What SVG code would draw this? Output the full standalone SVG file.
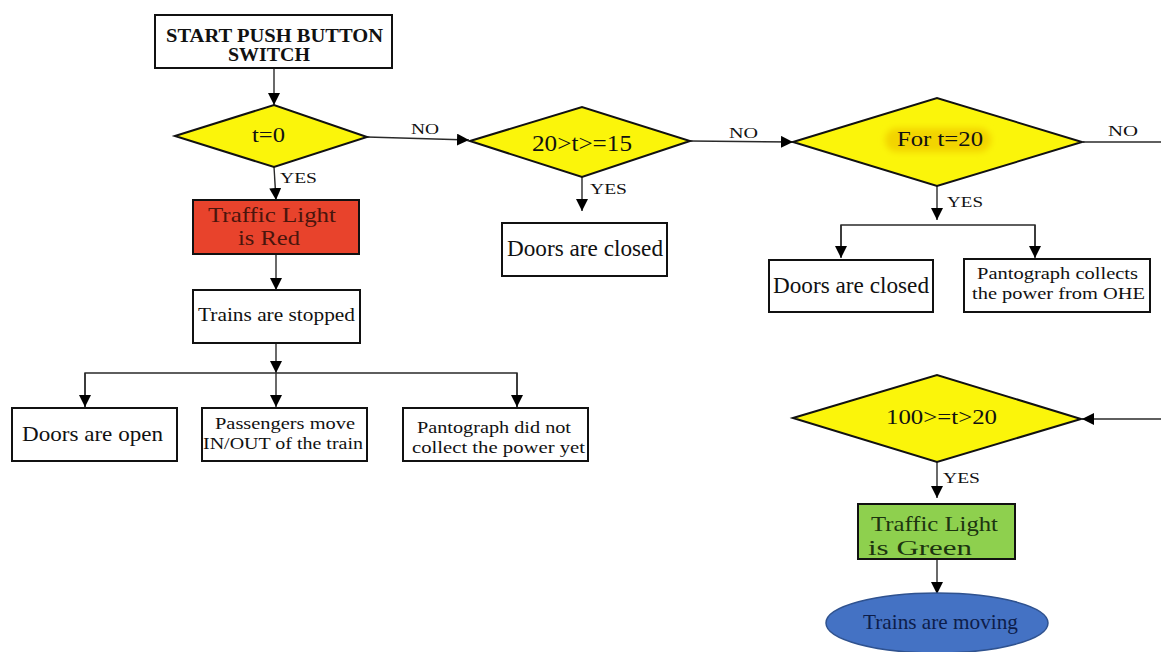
<svg xmlns="http://www.w3.org/2000/svg" width="1161" height="652" viewBox="0 0 1161 652">
  <style>
    .box { fill: #ffffff; stroke: #111111; stroke-width: 2; }
    .dia { fill: #fbf50a; stroke: #111111; stroke-width: 2; }
    .wire { fill: none; stroke: #2a2a2a; stroke-width: 1.4; }
    .arw { marker-end: url(#head); }
    text { font-family: "Liberation Serif", "Times New Roman", serif; fill: #111111; }
    .lbl { font-size: 15.5px; }
    .bold { font-weight: bold; }
  </style>
  <defs>
    <marker id="head" viewBox="0 0 12 12" refX="12" refY="6" markerWidth="12" markerHeight="12" markerUnits="userSpaceOnUse" orient="auto">
      <path d="M0,0 L12,6 L0,12 z" fill="#000000"/>
    </marker>
    <filter id="soft" x="-20%" y="-40%" width="140%" height="180%">
      <feGaussianBlur stdDeviation="3"/>
    </filter>
  </defs>

  <rect width="1161" height="652" fill="#ffffff"/>

  <!-- connectors -->
  <g id="connectors">
    <line class="wire arw" x1="274" y1="68" x2="274" y2="105"/>
    <line class="wire arw" x1="367" y1="137" x2="469" y2="140"/>
    <line class="wire arw" x1="274" y1="167" x2="276" y2="200"/>
    <line class="wire arw" x1="276" y1="254" x2="276" y2="290"/>
    <line class="wire arw" x1="276" y1="343" x2="276" y2="373"/>
    <polyline class="wire" points="85,407 85,373 517,373 517,407"/>
    <line class="wire arw" x1="85" y1="373" x2="85" y2="407"/>
    <line class="wire arw" x1="276" y1="373" x2="276" y2="407"/>
    <line class="wire arw" x1="517" y1="373" x2="517" y2="407"/>
    <line class="wire arw" x1="582" y1="177" x2="582" y2="211"/>
    <line class="wire arw" x1="690" y1="141" x2="793" y2="142"/>
    <line class="wire" x1="1083" y1="142" x2="1161" y2="142"/>
    <line class="wire arw" x1="937" y1="186" x2="937" y2="220"/>
    <polyline class="wire" points="841,257 841,225 1035,225 1035,257"/>
    <line class="wire arw" x1="841" y1="225" x2="841" y2="258"/>
    <line class="wire arw" x1="1035" y1="225" x2="1035" y2="258"/>
    <line class="wire arw" x1="1161" y1="419" x2="1082" y2="419"/>
    <line class="wire arw" x1="937" y1="462" x2="937" y2="498"/>
    <line class="wire arw" x1="937" y1="559" x2="937" y2="594"/>

    <text class="lbl" x="280" y="183" textLength="37" lengthAdjust="spacingAndGlyphs">YES</text>
    <text class="lbl" x="411" y="134" textLength="28" lengthAdjust="spacingAndGlyphs">NO</text>
    <text class="lbl" x="590" y="194" textLength="37" lengthAdjust="spacingAndGlyphs">YES</text>
    <text class="lbl" x="729" y="138" textLength="29" lengthAdjust="spacingAndGlyphs">NO</text>
    <text class="lbl" x="1108" y="136" textLength="30" lengthAdjust="spacingAndGlyphs">NO</text>
    <text class="lbl" x="947" y="207" textLength="36" lengthAdjust="spacingAndGlyphs">YES</text>
    <text class="lbl" x="943" y="483" textLength="37" lengthAdjust="spacingAndGlyphs">YES</text>
  </g>

  <!-- start -->
  <g id="start">
    <rect class="box" x="155" y="15" width="237" height="53"/>
    <text class="bold" x="166" y="41.5" font-size="18.5" textLength="217" lengthAdjust="spacingAndGlyphs">START PUSH BUTTON</text>
    <text class="bold" x="228" y="60.5" font-size="18.5" textLength="82" lengthAdjust="spacingAndGlyphs">SWITCH</text>
  </g>

  <!-- decision t=0 -->
  <g id="dec-t0">
    <polygon class="dia" points="175,136 274,105 367,137 274,167"/>
    <text x="252" y="141.5" font-size="21" textLength="33" lengthAdjust="spacingAndGlyphs">t=0</text>
  </g>

  <g id="light-red">
    <rect class="box" x="193" y="200" width="166" height="54" style="fill:#e8432c"/>
    <text x="208" y="222" font-size="22" textLength="128" lengthAdjust="spacingAndGlyphs" style="fill:#4a150c">Traffic Light</text>
    <text x="238" y="245" font-size="22" textLength="62" lengthAdjust="spacingAndGlyphs" style="fill:#4a150c">is Red</text>
  </g>

  <g id="trains-stopped">
    <rect class="box" x="193" y="290" width="167" height="53"/>
    <text x="198" y="320.5" font-size="19.5" textLength="157" lengthAdjust="spacingAndGlyphs">Trains are stopped</text>
  </g>

  <g id="doors-open">
    <rect class="box" x="12" y="408" width="165" height="53"/>
    <text x="22" y="440.5" font-size="21" textLength="141" lengthAdjust="spacingAndGlyphs">Doors are open</text>
  </g>

  <g id="passengers">
    <rect class="box" x="202" y="408" width="165" height="53"/>
    <text x="215" y="429" font-size="17.5" textLength="140" lengthAdjust="spacingAndGlyphs">Passengers move</text>
    <text x="203" y="448.5" font-size="17.5" textLength="160" lengthAdjust="spacingAndGlyphs">IN/OUT of the train</text>
  </g>

  <g id="panto-off">
    <rect class="box" x="403" y="408" width="185" height="53"/>
    <text x="417" y="433" font-size="17.5" textLength="154" lengthAdjust="spacingAndGlyphs">Pantograph did not</text>
    <text x="412" y="452.5" font-size="17.5" textLength="173" lengthAdjust="spacingAndGlyphs">collect the power yet</text>
  </g>

  <!-- decision 20>t>=15 -->
  <g id="dec-15">
    <polygon class="dia" points="470,141 582,107 690,141 582,177"/>
    <text x="532" y="151" font-size="22.5" textLength="100" lengthAdjust="spacingAndGlyphs">20&gt;t&gt;=15</text>
  </g>

  <g id="doors-closed-a">
    <rect class="box" x="502" y="223" width="165" height="53"/>
    <text x="507" y="256" font-size="22.5" textLength="156" lengthAdjust="spacingAndGlyphs">Doors are closed</text>
  </g>

  <!-- decision t=20 -->
  <g id="dec-20">
    <polygon class="dia" points="793,142 937,98 1082,142 937,186"/>
    <rect x="885" y="128" width="106" height="24" rx="12" fill="#f2d400" filter="url(#soft)"/>
    <text x="897" y="146" font-size="21.5" textLength="86" lengthAdjust="spacingAndGlyphs">For t=20</text>
  </g>

  <g id="doors-closed-b">
    <rect class="box" x="769" y="260" width="164" height="52"/>
    <text x="773" y="293" font-size="22.5" textLength="156" lengthAdjust="spacingAndGlyphs">Doors are closed</text>
  </g>

  <g id="panto-on">
    <rect class="box" x="964" y="259" width="186" height="53"/>
    <text x="977" y="279" font-size="16.5" textLength="161" lengthAdjust="spacingAndGlyphs">Pantograph collects</text>
    <text x="972" y="298.5" font-size="16.5" textLength="173" lengthAdjust="spacingAndGlyphs">the power from OHE</text>
  </g>

  <!-- decision 100>=t>20 -->
  <g id="dec-100">
    <polygon class="dia" points="793,418 937,375 1081,419 937,462"/>
    <text x="886" y="423.5" font-size="21.5" textLength="111" lengthAdjust="spacingAndGlyphs">100&gt;=t&gt;20</text>
  </g>

  <g id="light-green">
    <rect class="box" x="858" y="504" width="157" height="55" style="fill:#8ed04e"/>
    <text x="871" y="530.5" font-size="22" textLength="127" lengthAdjust="spacingAndGlyphs" style="fill:#1c3410">Traffic Light</text>
    <text x="868" y="554.5" font-size="22" textLength="104" lengthAdjust="spacingAndGlyphs" style="fill:#1c3410">is Green</text>
  </g>

  <g id="trains-moving">
    <ellipse cx="937" cy="623" rx="111" ry="30" fill="#4472c4" stroke="#2f528f" stroke-width="1.5"/>
    <text x="863" y="628.5" font-size="21" textLength="155" lengthAdjust="spacingAndGlyphs" style="fill:#0d1d4a">Trains are moving</text>
  </g>
</svg>
